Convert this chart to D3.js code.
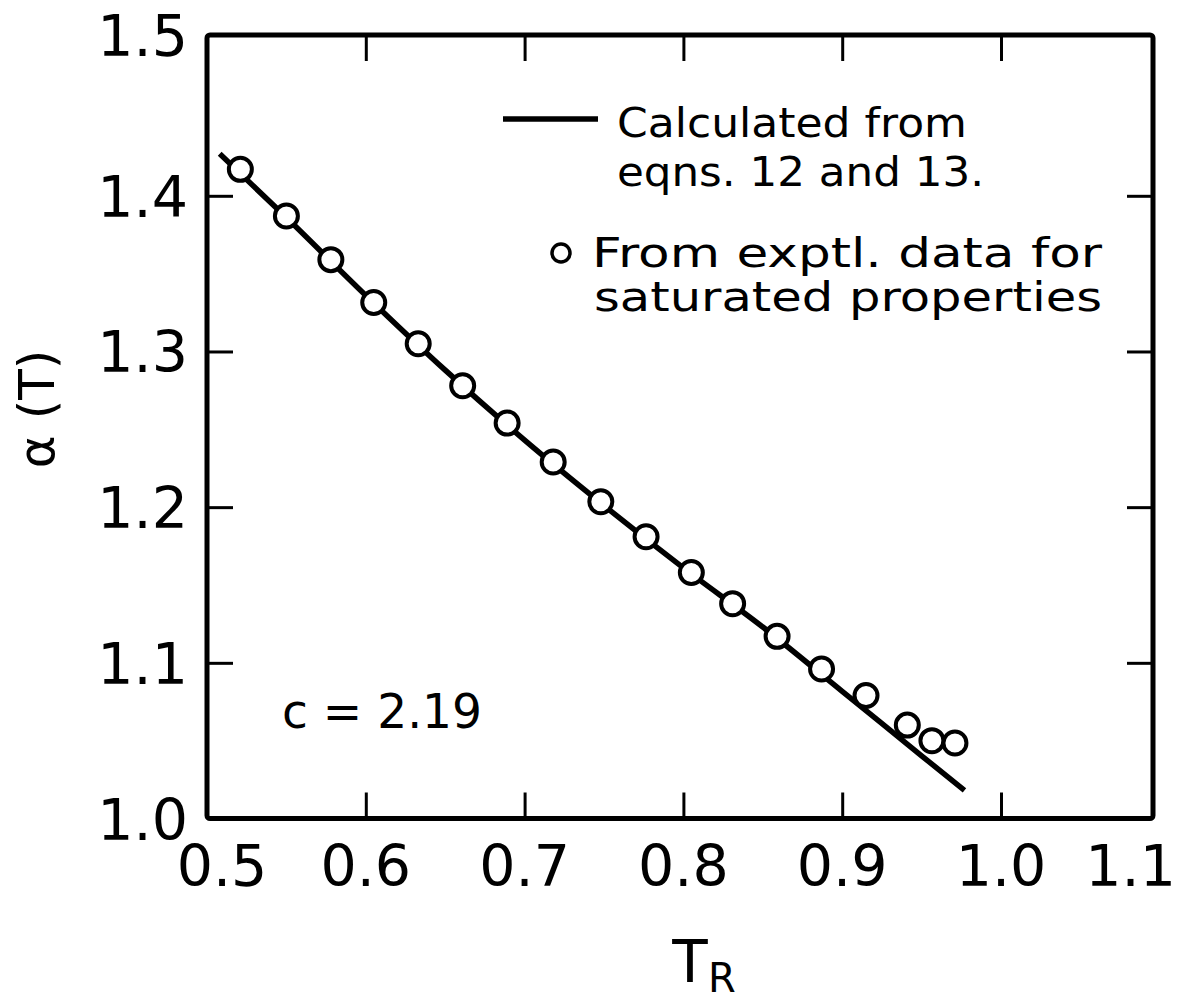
<!DOCTYPE html>
<html>
<head>
<meta charset="utf-8">
<script src="https://cdn.jsdelivr.net/npm/d3@7"></script>
<style>
  html, body { margin: 0; padding: 0; background: #fff; }
  svg { display: block; font-family: "DejaVu Sans", sans-serif; }
</style>
</head>
<body>
<svg id="chart" width="1179" height="1002"></svg>
<script>
// ---- data ----
const expT = [0.521, 0.550, 0.578, 0.605, 0.633, 0.661, 0.689, 0.718, 0.748, 0.7765, 0.805, 0.831, 0.859, 0.887, 0.915, 0.941, 0.9565, 0.971];
const expAlpha = [1.417, 1.387, 1.359, 1.3315, 1.305, 1.278, 1.254, 1.229, 1.2035, 1.181, 1.158, 1.138, 1.117, 1.096, 1.079, 1.060, 1.050, 1.0485];
const calcT = [0.508, 0.55, 0.60, 0.65, 0.70, 0.75, 0.80, 0.85, 0.90, 0.95, 0.977];
const calcAlpha = [1.427, 1.386, 1.336, 1.288, 1.243, 1.201, 1.161, 1.123, 1.0817, 1.0403, 1.018];
const xTickValues = [0.5, 0.6, 0.7, 0.8, 0.9, 1.0, 1.1];
const xTickLabels = ["0.5", "0.6", "0.7", "0.8", "0.9", "1.0", "1.1"];
const yTickValues = [1.0, 1.1, 1.2, 1.3, 1.4, 1.5];
const yTickLabels = ["1.0", "1.1", "1.2", "1.3", "1.4", "1.5"];
const legendLine = ["Calculated from", "eqns. 12 and 13."];
const legendCircle = ["From exptl. data for", "saturated properties"];
const annotation = "c = 2.19";
const xTitle = "T";
const xTitleSub = "R";
const yTitle = "\u03b1 (T)";

// ---- layout ----
const svg = d3.select("#chart");
const frame = { left: 207, right: 1153, top: 35, bottom: 818.5 };
const x = d3.scaleLinear().domain([0.5, 1.0]).range([207, 1001]);
const y = d3.scaleLinear().domain([1.0, 1.4]).range([818.5, 195.8]);

const innerX = xTickValues.filter(v => v > 0.5 && v < 1.05);
const innerY = yTickValues.filter(v => v > 1.0 && v < 1.45);
const tickLen = 26;

function styleAxis(g) {
  g.select(".domain").remove();
  g.selectAll(".tick line").attr("stroke", "#000").attr("stroke-width", 3);
}
svg.append("g").attr("transform", `translate(0,${frame.bottom})`)
  .call(d3.axisBottom(x).tickValues(innerX).tickSize(-tickLen).tickFormat("")).call(styleAxis);
svg.append("g").attr("transform", `translate(0,${frame.top})`)
  .call(d3.axisTop(x).tickValues(innerX).tickSize(-tickLen).tickFormat("")).call(styleAxis);
svg.append("g").attr("transform", `translate(${frame.left},0)`)
  .call(d3.axisLeft(y).tickValues(innerY).tickSize(-tickLen).tickFormat("")).call(styleAxis);
svg.append("g").attr("transform", `translate(${frame.right},0)`)
  .call(d3.axisRight(y).tickValues(innerY).tickSize(-tickLen).tickFormat("")).call(styleAxis);

// frame
svg.append("rect")
  .attr("x", frame.left).attr("y", frame.top)
  .attr("width", frame.right - frame.left).attr("height", frame.bottom - frame.top)
  .attr("fill", "none").attr("stroke", "#000").attr("stroke-width", 5)
  .attr("rx", 3);

// tick labels
svg.append("g").selectAll("text").data(xTickValues).join("text")
  .attr("x", d => d >= 1.1 ? 1176 : Math.max(222, x(d)))
  .attr("y", 886)
  .attr("text-anchor", d => d >= 1.1 ? "end" : "middle")
  .attr("font-size", 57)
  .attr("fill", "#000")
  .text((d, i) => xTickLabels[i]);

svg.append("g").selectAll("text").data(yTickValues).join("text")
  .attr("x", 188)
  .attr("y", d => (d >= 1.5 ? frame.top : y(d)) + 21)
  .attr("text-anchor", "end")
  .attr("font-size", 57)
  .attr("fill", "#000")
  .text((d, i) => yTickLabels[i]);

// axis titles
svg.append("text").attr("x", 690).attr("y", 982).attr("text-anchor", "middle")
  .attr("font-size", 58).attr("fill", "#000").text(xTitle);
svg.append("text").attr("x", 708).attr("y", 992).attr("font-size", 40).attr("fill", "#000").text(xTitleSub);

svg.append("text")
  .attr("transform", "translate(54,409) rotate(-90)")
  .attr("text-anchor", "middle")
  .attr("font-size", 50).attr("fill", "#000")
  .text(yTitle);

// calculated line
const line = d3.line().x(d => x(d[0])).y(d => y(d[1])).curve(d3.curveMonotoneX);
svg.append("path")
  .datum(calcT.map((t, i) => [t, calcAlpha[i]]))
  .attr("d", line)
  .attr("fill", "none").attr("stroke", "#000").attr("stroke-width", 5.5)
  .attr("stroke-linecap", "butt");

// experimental circles
svg.append("g").selectAll("circle").data(expT.map((t, i) => [t, expAlpha[i]])).join("circle")
  .attr("cx", d => x(d[0])).attr("cy", d => y(d[1]))
  .attr("r", 11.5)
  .attr("fill", "#fff").attr("stroke", "#000").attr("stroke-width", 4);

// legend
svg.append("line").attr("x1", 503).attr("x2", 598).attr("y1", 119).attr("y2", 119)
  .attr("stroke", "#000").attr("stroke-width", 5.5);
const legFont = 40;
svg.append("text").attr("x", 617).attr("y", 137).attr("font-size", legFont).attr("fill", "#000")
  .attr("textLength", 350).attr("lengthAdjust", "spacingAndGlyphs").text(legendLine[0]);
svg.append("text").attr("x", 617).attr("y", 186).attr("font-size", legFont).attr("fill", "#000")
  .attr("textLength", 367).attr("lengthAdjust", "spacingAndGlyphs").text(legendLine[1]);
svg.append("circle").attr("cx", 561).attr("cy", 253).attr("r", 9)
  .attr("fill", "#fff").attr("stroke", "#000").attr("stroke-width", 3.5);
svg.append("text").attr("x", 592).attr("y", 267).attr("font-size", legFont).attr("fill", "#000")
  .attr("textLength", 510).attr("lengthAdjust", "spacingAndGlyphs").text(legendCircle[0]);
svg.append("text").attr("x", 594).attr("y", 311).attr("font-size", legFont).attr("fill", "#000")
  .attr("textLength", 508).attr("lengthAdjust", "spacingAndGlyphs").text(legendCircle[1]);

// annotation
svg.append("text").attr("x", 282).attr("y", 728).attr("font-size", 48).attr("fill", "#000")
  .attr("textLength", 200).attr("lengthAdjust", "spacingAndGlyphs").text(annotation);
</script>
</body>
</html>
